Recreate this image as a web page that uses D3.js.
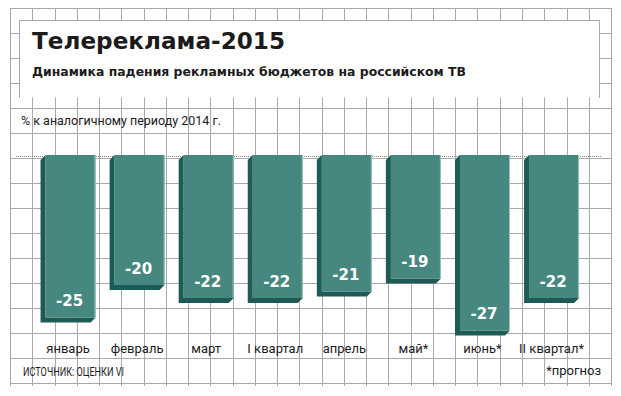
<!DOCTYPE html>
<html>
<head>
<meta charset="utf-8">
<script src="https://cdn.jsdelivr.net/npm/d3@7"></script>
<style>
  body { margin: 0; background: #fff; }
  svg { display: block; }
</style>
</head>
<body>
<svg id="chart" width="621" height="396"></svg>
<script>
const categories = ['январь', 'февраль', 'март', 'I квартал', 'апрель', 'май*', 'июнь*', 'II квартал*'];
const values = [-25, -20, -22, -22, -21, -19, -27, -22];

const title = 'Телереклама-2015';
const subtitle = 'Динамика падения рекламных бюджетов на российском ТВ';
const unitLabel = '% к аналогичному периоду 2014 г.';
const sourceLabel = 'ИСТОЧНИК: ОЦЕНКИ VI';
const noteLabel = '*прогноз';

const width = 621,
  height = 396;

const gridColor = '#a9a9a9',
  frontColor = '#468880',
  sideColor = '#1f5b56',
  depth = 5;

const svg = d3.select('#chart');

// background grid (squared paper)
const gridX = d3.range(28).map(i => 10 + i * 22.26);
const gridY = d3.range(16).map(i => 8.3 + i * 25);

const grid = svg.append('g')
  .attr('stroke', gridColor)
  .attr('stroke-width', 1)
  .attr('shape-rendering', 'crispEdges');

grid.selectAll('line.v')
  .data(gridX)
  .join('line')
  .attr('class', 'v')
  .attr('x1', d => Math.round(d) + 0.5)
  .attr('x2', d => Math.round(d) + 0.5)
  .attr('y1', 8.5)
  .attr('y2', 386);

grid.selectAll('line.h')
  .data(gridY)
  .join('line')
  .attr('class', 'h')
  .attr('x1', 10)
  .attr('x2', Math.round(gridX[gridX.length - 1]) + 1)
  .attr('y1', d => Math.round(d) + 0.5)
  .attr('y2', d => Math.round(d) + 0.5);

// title box
svg.append('rect')
  .attr('x', 19.5)
  .attr('y', 20.5)
  .attr('width', 580)
  .attr('height', 77)
  .attr('fill', '#fff');

svg.append('path')
  .attr('d', 'M19.5,97.5 V20.5 H599.5 V97.5')
  .attr('fill', 'none')
  .attr('stroke', gridColor)
  .attr('shape-rendering', 'crispEdges');

svg.append('text')
  .attr('x', 32)
  .attr('y', 48.5)
  .attr('font-family', 'DejaVu Sans')
  .attr('font-weight', 'bold')
  .attr('font-size', 23)
  .attr('fill', '#1b1b1b')
  .attr('textLength', 253)
  .attr('lengthAdjust', 'spacingAndGlyphs')
  .text(title);

svg.append('text')
  .attr('x', 32)
  .attr('y', 76)
  .attr('font-family', 'DejaVu Sans')
  .attr('font-weight', 'bold')
  .attr('font-size', 12)
  .attr('fill', '#1b1b1b')
  .attr('textLength', 434)
  .attr('lengthAdjust', 'spacingAndGlyphs')
  .text(subtitle);

svg.append('text')
  .attr('x', 21)
  .attr('y', 125)
  .attr('font-family', 'Roboto')
  .attr('font-size', 13.5)
  .attr('fill', '#1b1b1b')
  .attr('textLength', 200)
  .attr('lengthAdjust', 'spacingAndGlyphs')
  .text(unitLabel);

// scales
const x = d3.scaleBand()
  .domain(categories)
  .range([36, 588.6])
  .paddingInner(0.276)
  .paddingOuter(0.138);

const y = d3.scaleLinear()
  .domain([0, -30])
  .range([155, 350]);

// dotted zero line
svg.append('line')
  .attr('x1', 16)
  .attr('x2', 601)
  .attr('y1', y(0) + 1.5)
  .attr('y2', y(0) + 1.5)
  .attr('stroke', '#8a8a8a')
  .attr('stroke-width', 1)
  .attr('stroke-dasharray', '1,1');

const data = categories.map((c, i) => ({ cat: c, value: values[i] }));
const bw = x.bandwidth();

const bars = svg.append('g')
  .selectAll('g')
  .data(data)
  .join('g');

// extruded side + bottom
bars.append('path')
  .attr('fill', sideColor)
  .attr('d', d => {
    const x0 = x(d.cat),
      x1 = x0 + bw,
      top = y(0),
      bottom = y(d.value);
    return 'M' + x0 + ',' + top +
      'L' + (x0 - depth) + ',' + (top + depth) +
      'L' + (x0 - depth) + ',' + (bottom + depth) +
      'L' + (x1 - depth) + ',' + (bottom + depth) +
      'L' + x1 + ',' + bottom +
      'L' + x0 + ',' + bottom + 'Z';
  });

// front face
bars.append('rect')
  .attr('x', d => x(d.cat))
  .attr('y', y(0))
  .attr('width', bw)
  .attr('height', d => y(d.value) - y(0))
  .attr('fill', frontColor);

// light right edge
bars.append('line')
  .attr('x1', d => x(d.cat) + bw - 0.5)
  .attr('x2', d => x(d.cat) + bw - 0.5)
  .attr('y1', y(0))
  .attr('y2', d => y(d.value))
  .attr('stroke', '#9cc7bf')
  .attr('stroke-width', 1);

bars.append('text')
  .attr('x', d => x(d.cat) + bw / 2 - 1)
  .attr('y', d => y(d.value) - 11.5)
  .attr('text-anchor', 'middle')
  .attr('font-family', 'DejaVu Sans')
  .attr('font-weight', 'bold')
  .attr('font-size', 15)
  .attr('fill', '#fff')
  .text(d => d.value);

// category labels
svg.append('g')
  .selectAll('text')
  .data(categories)
  .join('text')
  .attr('x', d => x(d) + bw / 2 - 2.5)
  .attr('y', 353)
  .attr('text-anchor', 'middle')
  .attr('font-family', 'Roboto')
  .attr('font-size', 13)
  .attr('fill', '#1b1b1b')
  .text(d => d);

svg.append('text')
  .attr('x', 23)
  .attr('y', 375.5)
  .attr('font-family', 'Roboto')
  .attr('font-size', 12)
  .attr('fill', '#1b1b1b')
  .attr('textLength', 101)
  .attr('lengthAdjust', 'spacingAndGlyphs')
  .text(sourceLabel);

svg.append('text')
  .attr('x', 601)
  .attr('y', 375)
  .attr('text-anchor', 'end')
  .attr('font-family', 'Roboto')
  .attr('font-size', 13)
  .attr('fill', '#1b1b1b')
  .text(noteLabel);
</script>
</body>
</html>
